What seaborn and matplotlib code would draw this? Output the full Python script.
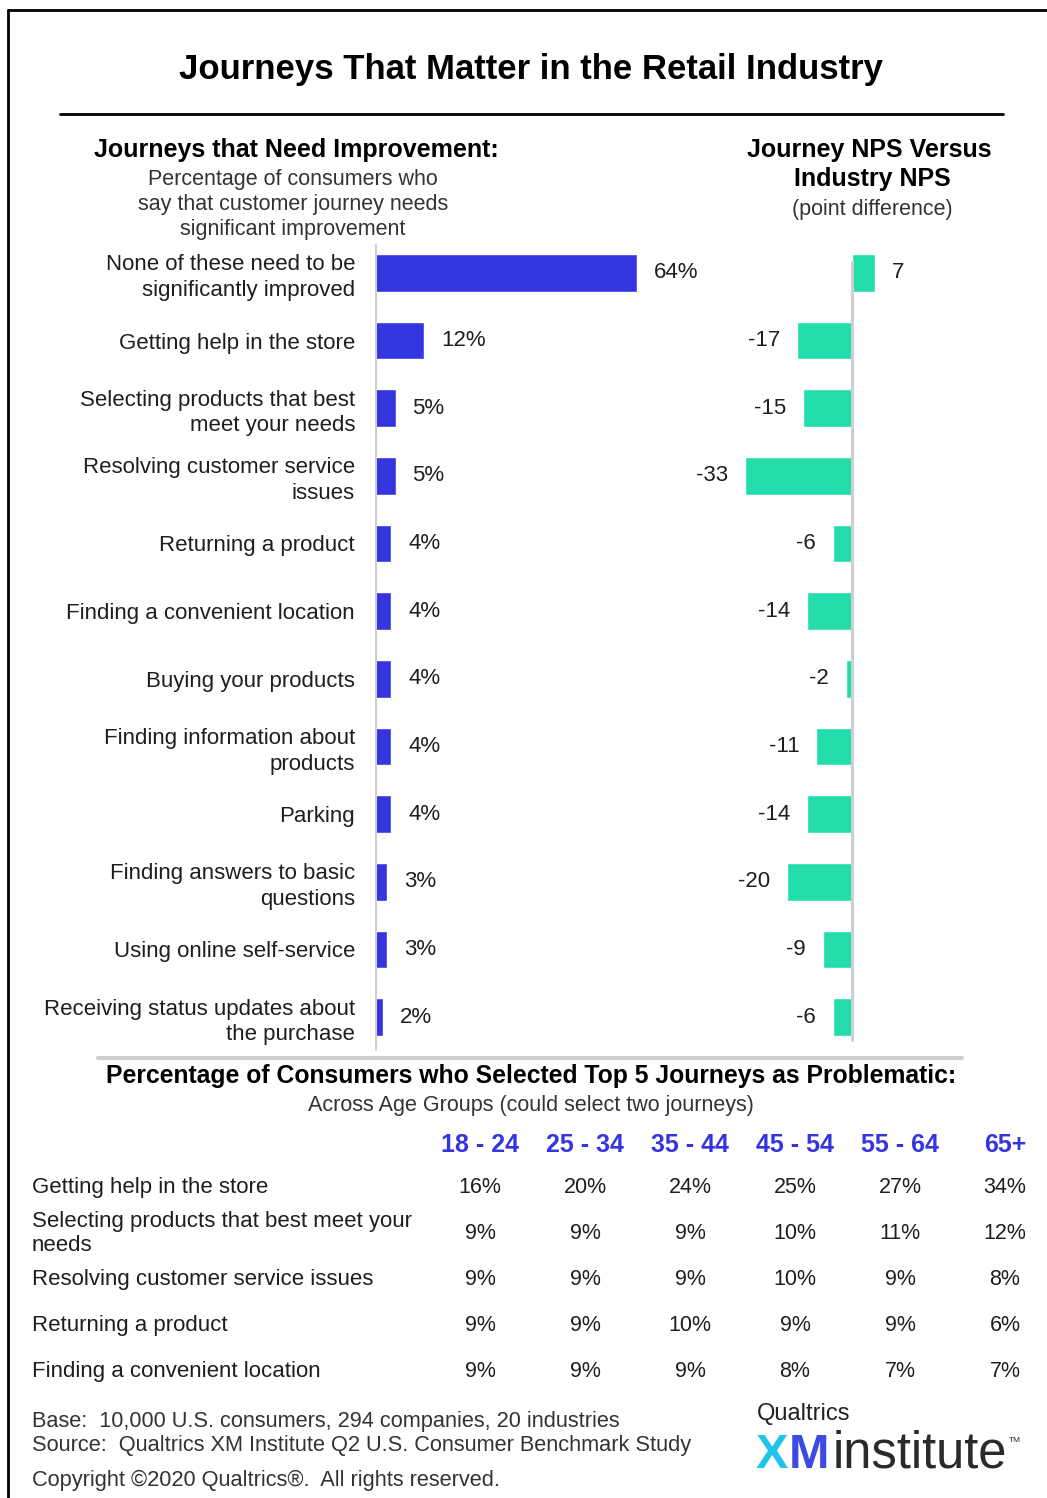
import matplotlib
matplotlib.use("Agg")
import matplotlib.pyplot as plt
import seaborn as sns
import pandas as pd
from matplotlib.colors import ListedColormap

# ---------------- data ----------------
journeys = [
    "None of these need to be\nsignificantly improved",
    "Getting help in the store",
    "Selecting products that best\nmeet your needs",
    "Resolving customer service\nissues",
    "Returning a product",
    "Finding a convenient location",
    "Buying your products",
    "Finding information about\nproducts",
    "Parking",
    "Finding answers to basic\nquestions",
    "Using online self-service",
    "Receiving status updates about\nthe purchase",
]
pct_need = [64, 12, 5, 5, 4, 4, 4, 4, 4, 3, 3, 2]
nps_diff = [7, -17, -15, -33, -6, -14, -2, -11, -14, -20, -9, -6]

age_groups = ["18 - 24", "25 - 34", "35 - 44", "45 - 54", "55 - 64", "65+"]
table_rows = [
    "Getting help in the store",
    "Selecting products that best meet your\nneeds",
    "Resolving customer service issues",
    "Returning a product",
    "Finding a convenient location",
]
row_help = [16, 20, 24, 25, 27, 34]
row_select = [9, 9, 9, 10, 11, 12]
row_resolve = [9, 9, 9, 10, 9, 8]
row_return = [9, 9, 10, 9, 9, 6]
row_location = [9, 9, 9, 8, 7, 7]

# ---------------- style ----------------
sns.set_style("white")
plt.rcParams['font.family'] = ['Liberation Sans', 'DejaVu Sans']

BLUE = "#3535E0"
TEAL = "#22DDAB"
TXT = "#1e1e1e"
GRAY = "#cfcfcf"

W, H = 1047, 1498
fig = plt.figure(figsize=(W / 100, H / 100), dpi=100)
fig.patch.set_facecolor("white")


def rect(l, t, r, b):
    return [l / W, 1 - b / H, (r - l) / W, (b - t) / H]


bg = fig.add_axes([0, 0, 1, 1])
bg.set_xlim(0, W)
bg.set_ylim(H, 0)
bg.axis("off")

# border and title
bg.plot([8, 8], [10, H], color="black", lw=2)
bg.plot([8, W], [10, 10], color="black", lw=2)
bg.text(531, 70, "Journeys That Matter in the Retail Industry", fontsize=25,
        fontweight="bold", ha="center", va="center", color="black")
bg.plot([60, 1003], [114, 114], color="black", lw=2)

# section headers
bg.text(296, 150, "Journeys that Need Improvement:", fontsize=18, fontweight="bold",
        ha="center", va="center", color="black")
for i, line in enumerate(["Percentage of consumers who",
                          "say that customer journey needs",
                          "significant improvement"]):
    bg.text(293, 180 + i * 24.5, line, fontsize=15.5, ha="center", va="center", color="#333333")
bg.text(869, 150, "Journey NPS Versus", fontsize=18, fontweight="bold",
        ha="center", va="center", color="black")
bg.text(872, 179, "Industry NPS", fontsize=18, fontweight="bold",
        ha="center", va="center", color="black")
bg.text(872, 209, "(point difference)", fontsize=15.5, ha="center", va="center", color="#333333")

# ---------------- bar charts ----------------
df = pd.DataFrame({"journey": journeys, "pct": pct_need, "nps": nps_diff})

ax1 = fig.add_axes(rect(375, 239, 700, 1051))
sns.barplot(data=df, x="pct", y="journey", order=journeys, orient="h", color=BLUE,
            saturation=1, width=0.56, ax=ax1)
ax1.set_xlim(0, 325 / 4.1)
ax1.set_ylim(11.5, -0.5)
ax1.bar_label(ax1.containers[0], labels=[f"{v}%" for v in pct_need], padding=12,
              fontsize=16, color=TXT)
ax1.axvline(0, ymin=0.0, ymax=(1051 - 245) / 812, color=GRAY, lw=2.2, zorder=5)
ax1.set_xlabel("")
ax1.set_ylabel("")
ax1.set_xticks([])
ax1.tick_params(axis="y", length=0, pad=14.4, labelsize=16, labelcolor=TXT)
for lab in ax1.get_yticklabels():
    lab.set_linespacing(1.3)
for s in ax1.spines.values():
    s.set_visible(False)
ax1.patch.set_alpha(0)

ax2 = fig.add_axes(rect(700, 239, 1000, 1051))
sns.barplot(data=df, x="nps", y="journey", order=journeys, orient="h", color=TEAL,
            saturation=1, width=0.56, ax=ax2)
ax2.set_xlim(-152 / 3.25, 148 / 3.25)
ax2.set_ylim(11.5, -0.5)
ax2.bar_label(ax2.containers[0], labels=[str(v) for v in nps_diff], padding=12,
              fontsize=16, color=TXT)
ax2.axvline(0, ymin=(1051 - 1040) / 812, ymax=(1051 - 262) / 812, color=GRAY, lw=2.2, zorder=5)
ax2.set_xlabel("")
ax2.set_ylabel("")
ax2.set_xticks([])
ax2.set_yticks([])
for s in ax2.spines.values():
    s.set_visible(False)
ax2.patch.set_alpha(0)

# ---------------- table ----------------
bg.plot([98, 962], [1058, 1058], color=GRAY, lw=3)
bg.text(531, 1076, "Percentage of Consumers who Selected Top 5 Journeys as Problematic:",
        fontsize=17.8, fontweight="bold", ha="center", va="center", color="black")
bg.text(531, 1106, "Across Age Groups (could select two journeys)", fontsize=15.5,
        ha="center", va="center", color="#333333")

tbl = pd.DataFrame([row_help, row_select, row_resolve, row_return, row_location],
                   index=table_rows, columns=age_groups)
annot = tbl.map(lambda v: f"{v}%")
ax3 = fig.add_axes(rect(427.5, 1164.2, 1057.5, 1394.7))
sns.heatmap(tbl, annot=annot, fmt="", cmap=ListedColormap(["white"]), cbar=False, ax=ax3,
            annot_kws=dict(fontsize=15.5, color=TXT))
ax3.xaxis.tick_top()
ax3.tick_params(axis="x", length=0, pad=5, labelsize=18, labelcolor=BLUE)
for lab in ax3.get_xticklabels():
    lab.set_fontweight("bold")
    lab.set_rotation(0)
ax3.tick_params(axis="y", length=0, pad=395.5 * 0.72, labelsize=16, labelcolor=TXT)
for lab in ax3.get_yticklabels():
    lab.set_ha("left")
    lab.set_rotation(0)
ax3.set_xlabel("")
ax3.set_ylabel("")

# ---------------- footer ----------------
bg.text(32, 1422, "Base:  10,000 U.S. consumers, 294 companies, 20 industries", fontsize=15.7,
        ha="left", va="center", color="#333333")
bg.text(32, 1446, "Source:  Qualtrics XM Institute Q2 U.S. Consumer Benchmark Study", fontsize=15.7,
        ha="left", va="center", color="#333333")
bg.text(32, 1480, "Copyright \u00a92020 Qualtrics\u00ae.  All rights reserved.", fontsize=15.7,
        ha="left", va="center", color="#333333")

# logo
bg.text(757, 1414, "Qualtrics", fontsize=17, ha="left", va="center", color="#222222")
tx = bg.text(756, 1468, "X", fontsize=35, fontweight="bold", color="#1EC4EC",
             ha="left", va="baseline")
tm = bg.annotate("M", xy=(1, 0), xycoords=tx, fontsize=35, fontweight="bold",
                 color="#3D4BE3", ha="left", va="bottom")
ti = bg.annotate("institute", xy=(1, 0), xycoords=tm, xytext=(3, 0), textcoords="offset points",
                 fontsize=36.5, color="#2a2a2a", ha="left", va="bottom")
bg.annotate("TM", xy=(1, 1), xycoords=ti, xytext=(1, -6), textcoords="offset points",
            fontsize=6, color="#2a2a2a", ha="left", va="top")

fig.savefig("out.png", dpi=100)
